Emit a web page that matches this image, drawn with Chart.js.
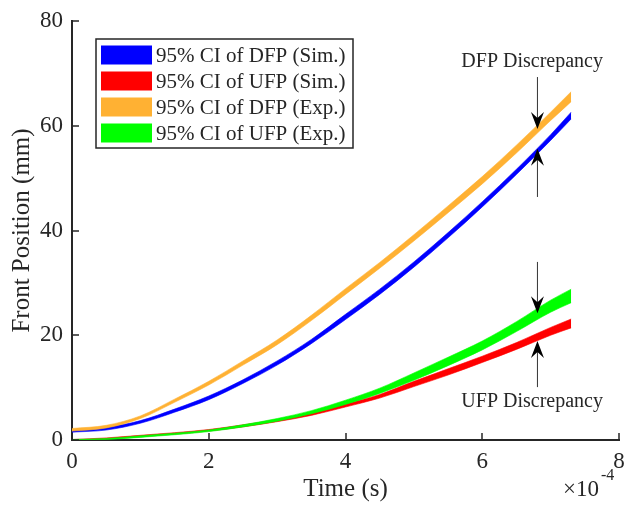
<!DOCTYPE html>
<html lang="en">
<head>
    <meta charset="UTF-8">
    <title>Front Position 95% CI</title>
    <script src="https://cdn.jsdelivr.net/npm/chart.js"></script>
    <style>
        * { margin: 0; padding: 0; box-sizing: border-box; }
        body { background: #fff; width: 626px; height: 509px; overflow: hidden; }
    </style>
</head>
<body>
    <canvas id="myChart" width="626" height="509"></canvas>
    <script>
        // time in units of 1e-4 s
        const time = [0, 0.5, 1, 1.5, 2, 2.5, 3, 3.5, 4, 4.5, 5, 5.5, 6, 6.5, 7, 7.3];

        // 95% CI bounds (mm)
        const dfpSimLo = [1.5, 1.9, 3.2, 5.3, 7.7, 10.8, 14.3, 18.4, 23.0, 27.8, 33.0, 38.6, 44.5, 50.7, 57.2, 61.3];
        const dfpSimHi = [1.9, 2.4, 3.7, 5.9, 8.4, 11.5, 15.1, 19.2, 24.0, 28.8, 34.0, 39.6, 45.5, 51.7, 58.3, 62.6];
        const ufpSimLo = [0.0, 0.2, 0.6, 1.1, 1.7, 2.5, 3.5, 4.7, 6.3, 8.0, 10.2, 12.4, 14.8, 17.3, 20.0, 21.4];
        const ufpSimHi = [0.1, 0.4, 0.9, 1.4, 2.0, 2.9, 3.9, 5.2, 6.9, 8.7, 11.2, 13.6, 16.0, 18.6, 21.5, 23.1];
        const dfpExpLo = [1.7, 2.3, 4.1, 7.2, 10.5, 14.3, 18.2, 22.8, 27.8, 32.8, 38.0, 43.4, 48.9, 54.8, 61.0, 64.6];
        const dfpExpHi = [2.2, 2.8, 4.6, 7.8, 11.2, 15.1, 19.1, 23.8, 28.9, 33.9, 39.2, 44.7, 50.3, 56.3, 62.6, 66.5];
        const ufpExpLo = [0.0, 0.1, 0.5, 1.0, 1.6, 2.5, 3.6, 5.0, 6.8, 8.9, 11.4, 14.2, 17.2, 20.7, 24.4, 26.2];
        const ufpExpHi = [0.1, 0.3, 0.8, 1.3, 1.9, 2.9, 4.1, 5.6, 7.6, 9.9, 12.8, 15.8, 18.9, 22.6, 26.7, 28.8];

        const xTicks = [0, 2, 4, 6, 8];
        const yTicks = [0, 20, 40, 60, 80];

        const legendLabels = ['95% CI of DFP (Sim.)', '95% CI of UFP (Sim.)', '95% CI of DFP (Exp.)', '95% CI of UFP (Exp.)'];

        // discrepancy arrows: x, tail y, tip y (data units)
        const arrows = [
            { x: 6.8, from: 69.3, to: 59.4 },
            { x: 6.8, from: 46.4, to: 55.6 },
            { x: 6.8, from: 34.0, to: 24.2 },
            { x: 6.8, from: 10.1, to: 18.9 }
        ];
        const notes = [
            { text: 'DFP Discrepancy', x: 6.73, y: 72.2 },
            { text: 'UFP Discrepancy', x: 6.73, y: 7.3 }
        ];

        const TXT = '#262626';
        const FONT = 'Liberation Serif, Times New Roman, serif';

        const pts = arr => arr.map((v, i) => ({ x: time[i], y: v }));

        function band(lo, hi, color, order) {
            const base = {
                borderColor: color,
                backgroundColor: color,
                borderWidth: 0.6,
                pointRadius: 0,
                cubicInterpolationMode: 'monotone',
                order: order
            };
            return [
                Object.assign({ data: pts(lo), fill: false }, base),
                Object.assign({ data: pts(hi), fill: '-1' }, base)
            ];
        }

        const colors = ['#0000ff', '#ff0000', '#ffb133', '#00ff00'];

        const decor = {
            id: 'decor',
            afterDraw(chart) {
                const ctx = chart.ctx;
                const xs = chart.scales.x, ys = chart.scales.y;
                const area = chart.chartArea;
                ctx.save();

                // inward ticks
                ctx.strokeStyle = TXT;
                ctx.lineWidth = 1.5;
                xTicks.forEach(v => {
                    const px = Math.round(xs.getPixelForValue(v));
                    ctx.beginPath();
                    ctx.moveTo(px, area.bottom);
                    ctx.lineTo(px, area.bottom - 7);
                    ctx.stroke();
                });
                yTicks.forEach(v => {
                    const py = Math.round(ys.getPixelForValue(v));
                    ctx.beginPath();
                    ctx.moveTo(area.left, py);
                    ctx.lineTo(area.left + 7, py);
                    ctx.stroke();
                });

                // arrows
                arrows.forEach(a => {
                    const px = xs.getPixelForValue(a.x);
                    const y0 = ys.getPixelForValue(a.from);
                    const y1 = ys.getPixelForValue(a.to);
                    const dir = y1 > y0 ? 1 : -1;
                    ctx.strokeStyle = '#333';
                    ctx.lineWidth = 1;
                    ctx.beginPath();
                    ctx.moveTo(px + 0.5, y0);
                    ctx.lineTo(px + 0.5, y1 - dir * 8);
                    ctx.stroke();
                    ctx.fillStyle = '#000';
                    ctx.beginPath();
                    ctx.moveTo(px + 0.5, y1);
                    ctx.lineTo(px + 0.5 - 6.5, y1 - dir * 17);
                    ctx.lineTo(px + 0.5, y1 - dir * 11);
                    ctx.lineTo(px + 0.5 + 6.5, y1 - dir * 17);
                    ctx.closePath();
                    ctx.fill();
                });

                ctx.fillStyle = TXT;
                ctx.font = '20px ' + FONT;
                ctx.textAlign = 'center';
                ctx.textBaseline = 'middle';
                notes.forEach(n => {
                    ctx.fillText(n.text, xs.getPixelForValue(n.x), ys.getPixelForValue(n.y));
                });

                // exponent label
                ctx.textAlign = 'left';
                ctx.font = '23px ' + FONT;
                ctx.fillText('\u00d710', area.right - 56, area.bottom + 50);
                ctx.font = '16px ' + FONT;
                ctx.fillText('-4', area.right - 18, area.bottom + 36);

                // legend
                const lx = area.left + 24, ly = area.top + 18;
                const lw = 257, lh = 109;
                ctx.fillStyle = '#fff';
                ctx.fillRect(lx, ly, lw, lh);
                ctx.strokeStyle = TXT;
                ctx.lineWidth = 1.5;
                ctx.strokeRect(lx, ly, lw, lh);
                ctx.font = '21px ' + FONT;
                legendLabels.forEach((lab, i) => {
                    const cy = ly + 16 + i * 26;
                    ctx.fillStyle = colors[i];
                    ctx.fillRect(lx + 5, cy - 9.5, 51, 19);
                    ctx.fillStyle = TXT;
                    ctx.fillText(lab, lx + 60, cy + 1);
                });
                ctx.restore();
            }
        };

        const ctx = document.getElementById('myChart').getContext('2d');
        new Chart(ctx, {
            type: 'line',
            data: {
                datasets: [
                    ...band(dfpSimLo, dfpSimHi, colors[0], 4),
                    ...band(ufpSimLo, ufpSimHi, colors[1], 3),
                    ...band(dfpExpLo, dfpExpHi, colors[2], 2),
                    ...band(ufpExpLo, ufpExpHi, colors[3], 1)
                ]
            },
            options: {
                responsive: false,
                animation: false,
                layout: { padding: { left: 0, top: 21, right: 7, bottom: 0 } },
                plugins: {
                    legend: { display: false },
                    tooltip: { enabled: false }
                },
                scales: {
                    x: {
                        type: 'linear',
                        min: 0,
                        max: 8,
                        afterBuildTicks: s => { s.ticks = xTicks.map(v => ({ value: v })); },
                        afterFit: s => { s.height = 69; s.paddingLeft = 0; s.paddingRight = 0; },
                        grid: { display: false, drawTicks: false },
                        border: { display: true, color: TXT, width: 2 },
                        ticks: { color: TXT, padding: 8, maxRotation: 0, font: { family: FONT, size: 23 } },
                        title: {
                            display: true,
                            text: 'Time (s)',
                            color: TXT,
                            padding: { top: 0, bottom: 5 },
                            font: { family: FONT, size: 25 }
                        }
                    },
                    y: {
                        min: 0,
                        max: 80,
                        afterBuildTicks: s => { s.ticks = yTicks.map(v => ({ value: v })); },
                        afterFit: s => { s.width = 72; s.paddingTop = 0; s.paddingBottom = 0; },
                        grid: { display: false, drawTicks: false },
                        border: { display: true, color: TXT, width: 2 },
                        ticks: { color: TXT, padding: 9, font: { family: FONT, size: 23 } },
                        title: {
                            display: true,
                            text: 'Front Position (mm)',
                            color: TXT,
                            padding: { top: 7, bottom: 0 },
                            font: { family: FONT, size: 25 }
                        }
                    }
                }
            },
            plugins: [decor]
        });
    </script>
</body>
</html>
